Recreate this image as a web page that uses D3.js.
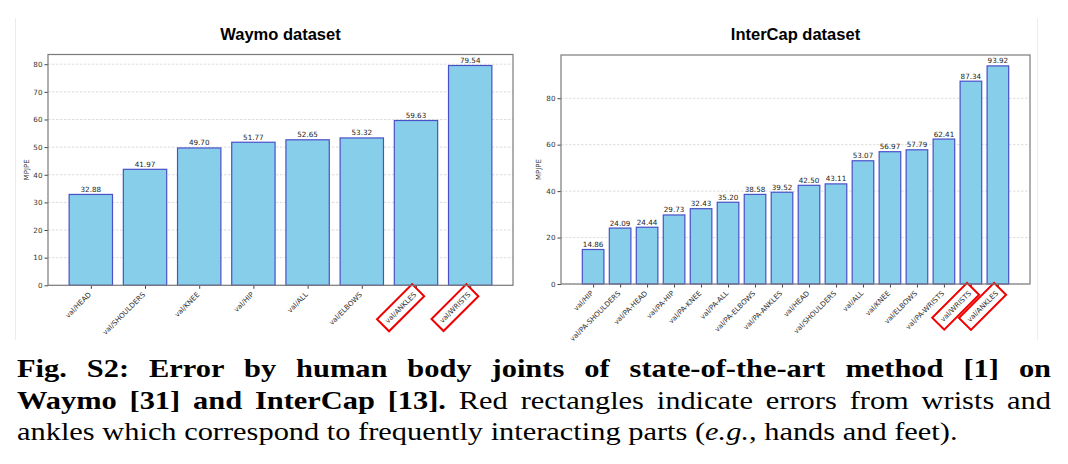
<!DOCTYPE html>
<html>
<head>
<meta charset="utf-8">
<script src="https://cdn.jsdelivr.net/npm/d3@7"></script>
<style>
  body { margin: 0; background: #fff; }
  svg { display: block; }
  .tick text { fill: #333; font-family: "DejaVu Sans", sans-serif; }
  .tick line { stroke: #444; }
</style>
</head>
<body>
<div id="chart-area"></div>
<script>
// values
var waymoJoints = ["val/HEAD", "val/SHOULDERS", "val/KNEE", "val/HIP", "val/ALL", "val/ELBOWS", "val/ANKLES", "val/WRISTS"];
var waymoMPJPE = [32.88, 41.97, 49.70, 51.77, 52.65, 53.32, 59.63, 79.54];
var waymoTicks = [0, 10, 20, 30, 40, 50, 60, 70, 80];

var intercapJoints = ["val/HIP", "val/PA-SHOULDERS", "val/PA-HEAD", "val/PA-HIP", "val/PA-KNEE", "val/PA-ALL",
    "val/PA-ELBOWS", "val/PA-ANKLES", "val/HEAD", "val/SHOULDERS", "val/ALL", "val/KNEE", "val/ELBOWS",
    "val/PA-WRISTS", "val/WRISTS", "val/ANKLES"];
var intercapMPJPE = [14.86, 24.09, 24.44, 29.73, 32.43, 35.20, 38.58, 39.52, 42.50, 43.11, 53.07, 56.97, 57.79,
    62.41, 87.34, 93.92];
var intercapTicks = [0, 20, 40, 60, 80];

var highlighted = ["val/ANKLES", "val/WRISTS"];

var svg = d3.select("#chart-area")
    .append("svg")
    .attr("width", 1068)
    .attr("height", 464);

// faint edges of the two figure images
svg.append("line").attr("x1", 15.5).attr("x2", 15.5).attr("y1", 18).attr("y2", 340)
    .attr("stroke", "#ececec");
svg.append("line").attr("x1", 1037.5).attr("x2", 1037.5).attr("y1", 18).attr("y2", 340)
    .attr("stroke", "#ececec");

function drawChart(title, names, values, ticks, box) {
    var g = svg.append("g");
    var n = names.length;
    var pad = 0.05 * (n - 1 + 0.8);

    var x = d3.scaleLinear()
        .domain([-0.4 - pad, n - 1 + 0.4 + pad])
        .range([box.left, box.right]);

    var y = d3.scaleLinear()
        .domain([0, d3.max(values) * 1.05])
        .range([box.bottom, box.top]);

    // grid
    g.selectAll(".grid")
        .data(ticks)
        .enter()
        .append("line")
        .attr("x1", box.left)
        .attr("x2", box.right)
        .attr("y1", d => y(d))
        .attr("y2", d => y(d))
        .attr("stroke", "#d4d4d4")
        .attr("stroke-width", 0.8)
        .attr("stroke-dasharray", "2.5,1.5");

    // bars
    g.selectAll(".bar")
        .data(values)
        .enter()
        .append("rect")
        .attr("x", (d, i) => x(i - 0.4))
        .attr("y", d => y(d))
        .attr("width", x(0.8) - x(0))
        .attr("height", d => y(0) - y(d))
        .attr("fill", "#87ceeb")
        .attr("stroke", "#4a50c8")
        .attr("stroke-width", 1.2);

    // value labels
    g.selectAll(".val")
        .data(values)
        .enter()
        .append("text")
        .attr("x", (d, i) => x(i))
        .attr("y", d => y(d) - 2.5)
        .attr("text-anchor", "middle")
        .attr("font-family", "DejaVu Sans, sans-serif")
        .attr("font-size", 7.2)
        .attr("fill", "#222")
        .text(d => d3.format(".2f")(d));

    // y axis
    var yAxis = g.append("g")
        .attr("transform", "translate(" + box.left + ",0)")
        .call(d3.axisLeft(y).tickValues(ticks).tickSize(3.5).tickPadding(2));
    yAxis.select(".domain").remove();
    yAxis.selectAll("text").attr("font-size", 7.2);

    // x axis
    var xAxis = g.append("g")
        .attr("transform", "translate(0," + box.bottom + ")")
        .call(d3.axisBottom(x)
            .tickValues(d3.range(n))
            .tickFormat(i => names[i])
            .tickSize(3.5));
    xAxis.select(".domain").remove();
    xAxis.selectAll("text")
        .attr("font-size", 7.1)
        .attr("x", 0)
        .attr("y", 0)
        .attr("dy", "0.35em")
        .attr("text-anchor", "end")
        .attr("transform", "translate(-1.5,8) rotate(-45)");

    // red boxes around wrists / ankles labels
    xAxis.selectAll(".tick").each(function(i) {
        if (highlighted.indexOf(names[i]) < 0) return;
        var t = d3.select(this).select("text");
        var w = t.node().getComputedTextLength();
        d3.select(this).append("rect")
            .attr("transform", "translate(-1.5,8) rotate(-45)")
            .attr("x", -w - 4.5)
            .attr("y", -8.5)
            .attr("width", w + 9)
            .attr("height", 17)
            .attr("fill", "none")
            .attr("stroke", "#f00000")
            .attr("stroke-width", 2);
    });

    // frame
    g.append("rect")
        .attr("x", box.left)
        .attr("y", box.top)
        .attr("width", box.right - box.left)
        .attr("height", box.bottom - box.top)
        .attr("fill", "none")
        .attr("stroke", "#7a7a7a")
        .attr("stroke-width", 1.2);

    // y label
    g.append("text")
        .attr("transform", "translate(" + box.ylab + "," + ((box.top + box.bottom) / 2) + ") rotate(-90)")
        .attr("text-anchor", "middle")
        .attr("font-family", "DejaVu Sans, sans-serif")
        .attr("font-size", 7)
        .attr("fill", "#333")
        .text("MPJPE");

    // title
    g.append("text")
        .attr("x", (box.left + box.right) / 2)
        .attr("y", 40)
        .attr("text-anchor", "middle")
        .attr("font-family", "Liberation Sans, Arial, sans-serif")
        .attr("font-weight", "bold")
        .attr("font-size", 16.5)
        .attr("fill", "#000")
        .text(title);
}

drawChart("Waymo dataset", waymoJoints, waymoMPJPE, waymoTicks,
    {left: 48, right: 513, top: 54.5, bottom: 285.3, ylab: 29});
drawChart("InterCap dataset", intercapJoints, intercapMPJPE, intercapTicks,
    {left: 561, right: 1030, top: 55, bottom: 284, ylab: 541});

// caption (Liberation Serif widened to the width of the LaTeX font)
var cap = svg.append("g")
    .attr("font-family", "Liberation Serif, Times New Roman, serif")
    .attr("font-size", 25)
    .attr("fill", "#000");

var line1 = cap.append("text").attr("font-weight", "bold")
    .text("Fig. S2: Error by human body joints of state-of-the-art method [1] on");

var line2 = cap.append("text");
line2.append("tspan").attr("font-weight", "bold").text("Waymo [31] and InterCap [13].");
line2.append("tspan").text(" Red rectangles indicate errors from wrists and");

var line3 = cap.append("text");
line3.append("tspan").text("ankles which correspond to frequently interacting parts (");
line3.append("tspan").attr("font-style", "italic").text("e.g.");
line3.append("tspan").text(", hands and feet).");

var sx = 941 / line3.node().getComputedTextLength();
[[line1, 377], [line2, 409], [line3, 440]].forEach(function(p) {
    p[0].attr("transform", "translate(17," + p[1] + ") scale(" + sx + ",1)");
});

function justify(sel, target) {
    var str = sel.text();
    var spaces = (str.match(/ /g) || []).length;
    var w = sel.node().getComputedTextLength();
    sel.attr("word-spacing", (target - w) / spaces);
}
justify(line1, 1034 / sx);
justify(line2, 1034 / sx);
</script>
</body>
</html>
